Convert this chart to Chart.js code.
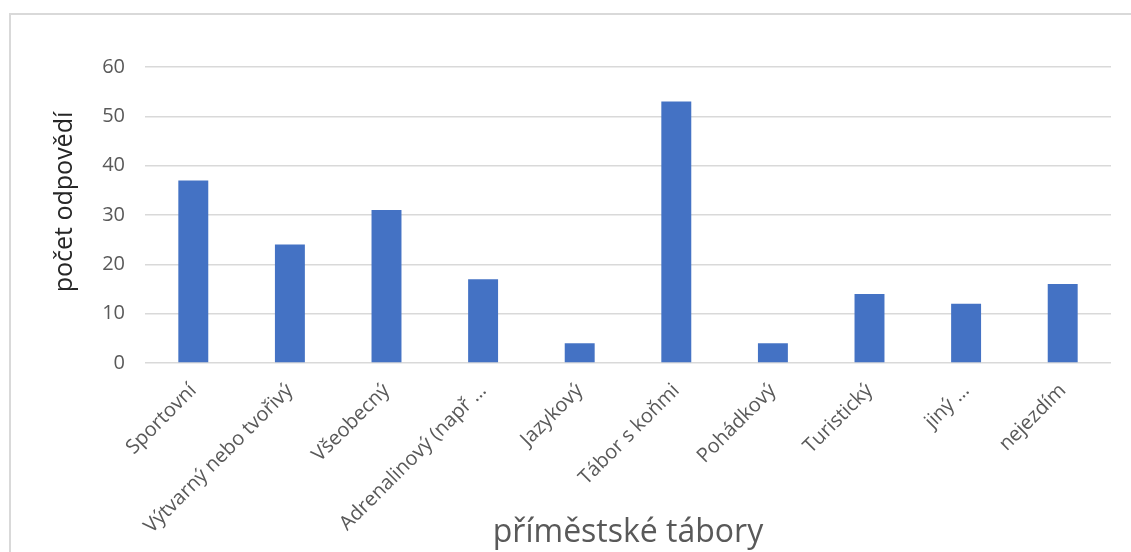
<!DOCTYPE html>
<html>
<head>
<meta charset="utf-8">
<script src="https://cdn.jsdelivr.net/npm/chart.js@4"></script>
<style>
  html, body { margin: 0; padding: 0; background: #fff; overflow: hidden; }
  #frame { position: absolute; left: 9px; top: 13px; width: 1140px; height: 560px; border: 2px solid #d9d9d9; }
  #wrap { position: absolute; left: 0; top: 0; width: 1131px; height: 552px; }
</style>
</head>
<body>
<div id="frame"></div>
<div id="wrap"><canvas id="barChart" width="1131" height="552"></canvas></div>
<script>
const categories = ['Sportovní', 'Výtvarný nebo tvořivý', 'Všeobecný', 'Adrenalinový (např …',
  'Jazykový', 'Tábor s koňmi', 'Pohádkový', 'Turistický', 'jiný …', 'nejezdím'];
const answers = [37, 24, 31, 17, 4, 53, 4, 14, 12, 16];
const yTicks = [0, 10, 20, 30, 40, 50, 60];

const FONT = "'Open Sans', 'Noto Sans', sans-serif";

new Chart(document.getElementById('barChart'), {
  type: 'bar',
  data: {
    labels: categories,
    datasets: [{
      label: 'počet odpovědí',
      data: answers,
      backgroundColor: '#4472c4',
      barPercentage: 0.31,
      categoryPercentage: 1
    }]
  },
  options: {
    responsive: false,
    animation: false,
    layout: { padding: { top: 67, right: 20, left: 0, bottom: 0 } },
    plugins: { legend: { display: false }, tooltip: { enabled: false } },
    scales: {
      x: {
        grid: { display: false },
        border: { display: false },
        ticks: {
          color: '#595959',
          font: { family: FONT, size: 20 },
          minRotation: 45,
          maxRotation: 45,
          autoSkip: false,
          padding: 8
        },
        title: {
          display: true,
          text: 'příměstské tábory',
          color: '#595959',
          font: { family: FONT, size: 32 },
          padding: { top: 1, bottom: 0 }
        },
        afterFit(scale) { scale.height = 189; }
      },
      y: {
        min: 0,
        max: 60,
        afterBuildTicks(scale) { scale.ticks = yTicks.map(v => ({ value: v })); },
        grid: { color: '#d9d9d9', lineWidth: 1.5, drawTicks: false },
        border: { display: false },
        ticks: {
          color: '#595959',
          font: { family: FONT, size: 20 },
          padding: 20
        },
        title: {
          display: true,
          // leading spaces lift the rotated title a little, like the original
          text: '\u00a0\u00a0\u00a0\u00a0počet odpovědí',
          color: '#262626',
          font: { family: FONT, size: 25 },
          padding: { top: 50, bottom: 0 }
        },
        afterFit(scale) { scale.width = 145; }
      }
    }
  }
});
</script>
</body>
</html>
